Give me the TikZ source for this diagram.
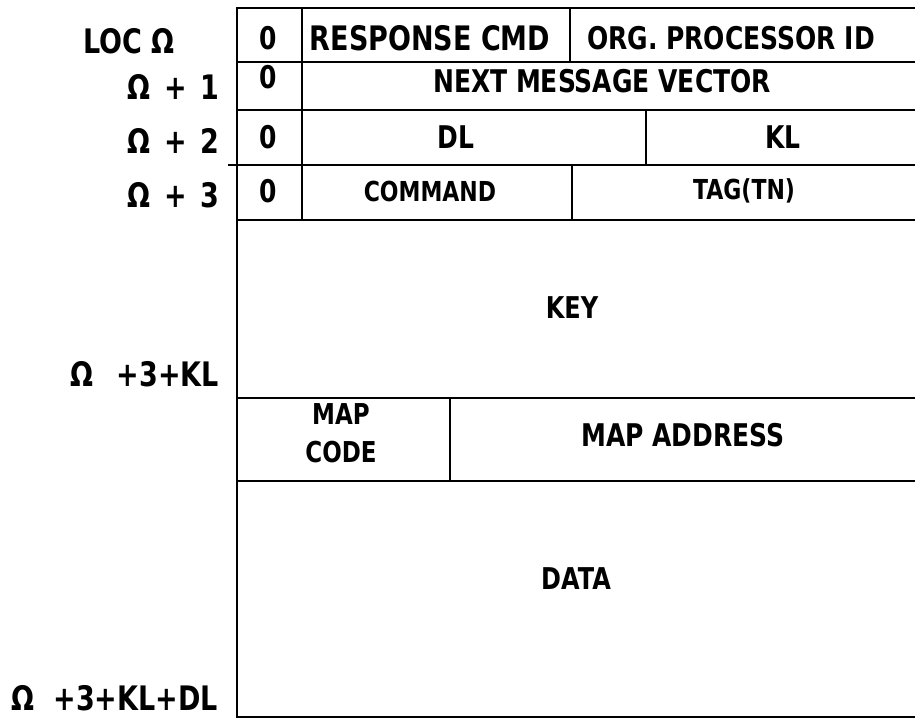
\documentclass[tikz,border=0pt]{standalone}
\usepackage{fontspec}
\usepackage{graphicx}
\setmainfont{DejaVu Sans}
\newcommand\tl[1]{\scalebox{1}[1.25]{#1}}
\begin{document}
\begin{tikzpicture}[x=1pt,y=-1pt,
  every node/.style={inner sep=0pt, font=\fontsize{25}{30}\selectfont\bfseries},
  ln/.style={line width=1.8pt},
  lbl/.style={anchor=east, font=\fontsize{27}{30}\selectfont\bfseries},
  narrow/.style={font=\fontsize{22}{26}\selectfont\bfseries}]
\useasboundingbox (0,0) rectangle (915,718);
% grid
\draw[ln] (915,8) -- (237,8) -- (237,717) -- (915,717);
\draw[ln] (237,62) -- (915,62);
\draw[ln] (237,110) -- (915,110);
\draw[ln] (228,165) -- (915,165);
\draw[ln] (237,220) -- (915,220);
\draw[ln] (237,398) -- (915,398);
\draw[ln] (237,481) -- (915,481);
\draw[ln] (302,8) -- (302,220);
\draw[ln] (570,8) -- (570,62);
\draw[ln] (646,110) -- (646,165);
\draw[ln] (572,165) -- (572,220);
\draw[ln] (450,398) -- (450,481);
% cell texts
\node (z0) at (268,38) {\tl{0}};
\node (z1) at (268,77) {\tl{0}};
\node (z2) at (268,137) {\tl{0}};
\node (z3) at (268,191) {\tl{0}};
\node[font=\fontsize{27}{30}\selectfont\bfseries] (resp) at (430,38) {\tl{RESPONSE CMD}};
\node (org) at (731,38) {\tl{ORG. PROCESSOR ID}};
\node (next) at (602,81) {\tl{NEXT MESSAGE VECTOR}};
\node (dl) at (456,137) {\tl{DL}};
\node (kl) at (783,137) {\tl{KL}};
\node[narrow] (cmd) at (430,191) {\tl{COMMAND}};
\node[narrow] (tag) at (744,191) {\tl{TAG(TN)}};
\node[font=\fontsize{24}{30}\selectfont\bfseries] (key) at (572,308) {\tl{KEY}};
\node[narrow, align=center, font=\fontsize{23}{38}\selectfont\bfseries] (mapc) at (341,433) {\tl{MAP}\\\tl{CODE}};
\node (mapa) at (683,435) {\tl{MAP ADDRESS}};
\node[font=\fontsize{24}{30}\selectfont\bfseries] (data) at (576,579) {\tl{DATA}};
% left labels
\node[lbl] (loc) at (175,41) {\tl{LOC Ω}};
\node[lbl] (n1) at (220,87) {\tl{Ω\,\ +\ \,1}};
\node[lbl] (n2) at (220,141) {\tl{Ω\,\ +\ \,2}};
\node[lbl] (n3) at (220,195) {\tl{Ω\,\ +\ \,3}};
\node[lbl] (nkl) at (219,374) {\tl{Ω\ \ \,+3+KL}};
\node[lbl] (nkldl) at (218,698) {\tl{Ω\ \ +3+KL+DL}};
\end{tikzpicture}
\end{document}
